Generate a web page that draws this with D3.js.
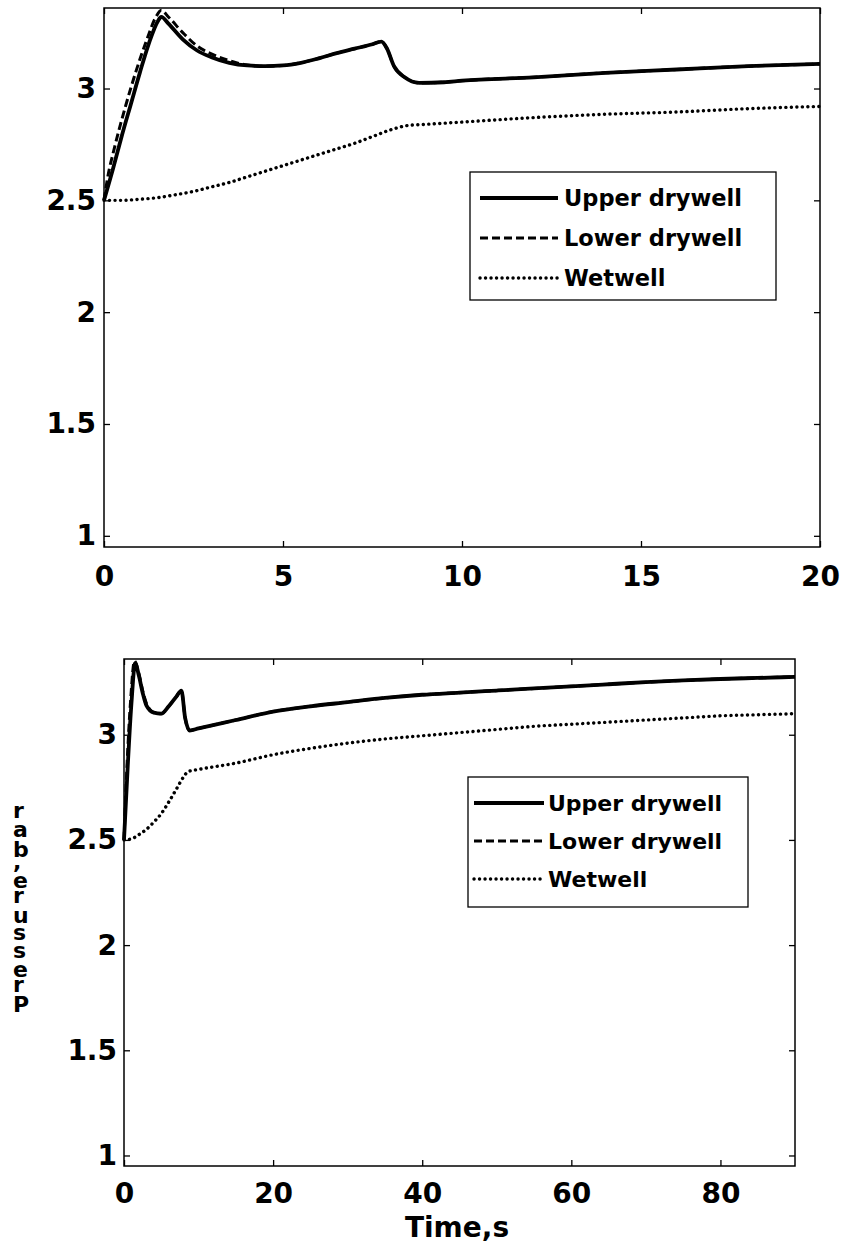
<!DOCTYPE html>
<html><head><meta charset="utf-8">
<script src="https://cdn.jsdelivr.net/npm/d3@7"></script>
<style>
html,body{margin:0;padding:0;background:#fff;}
svg text{font-family:"DejaVu Sans",sans-serif;font-weight:bold;fill:#000;}
</style></head>
<body>
<svg id="c" width="842" height="1247"></svg>
<script>
// ---- data ----
const seriesNames = ["Upper drywell", "Lower drywell", "Wetwell"];
const yTicks = [1, 1.5, 2, 2.5, 3];
const yTickLabels = ["1", "1.5", "2", "2.5", "3"];
const xTicksTop = [0, 5, 10, 15, 20];
const xTicksBottom = [0, 20, 40, 60, 80];
const xLabelBottom = "Time,s";
const yLabel = "Pressure,bar";

// top panel (0-20 s): [time, pressure]
const topUpper = [[0,2.5],[0.25,2.64],[0.5,2.79],[0.75,2.93],[1.0,3.07],[1.25,3.2],[1.5,3.3],[1.6,3.32],[1.8,3.29],[2.2,3.22],[2.6,3.17],[3.0,3.14],[3.5,3.115],[4.0,3.103],[4.5,3.10],[5.0,3.103],[5.5,3.115],[6.0,3.135],[6.5,3.158],[7.0,3.178],[7.5,3.198],[7.75,3.21],[7.9,3.18],[8.1,3.1],[8.4,3.05],[8.8,3.025],[9.5,3.028],[10,3.035],[12,3.05],[14,3.07],[16,3.085],[18,3.10],[20,3.11]];
const topLower = [[0,2.5],[0.1,2.6],[0.3,2.74],[0.6,2.92],[0.9,3.08],[1.2,3.22],[1.45,3.32],[1.6,3.35],[1.8,3.32],[2.2,3.25],[2.6,3.19],[3.0,3.155],[3.5,3.125],[4.0,3.105],[4.5,3.10],[5.0,3.103],[5.5,3.115],[6.0,3.135],[6.5,3.158],[7.0,3.178],[7.5,3.198],[7.75,3.21],[7.9,3.18],[8.1,3.1],[8.4,3.05],[8.8,3.025],[9.5,3.028],[10,3.035],[12,3.05],[14,3.07],[16,3.085],[18,3.10],[20,3.11]];
const topWet = [[0,2.5],[0.5,2.5],[1,2.505],[1.5,2.512],[2,2.525],[2.5,2.54],[3,2.56],[3.5,2.58],[4,2.605],[4.5,2.63],[5,2.655],[5.5,2.68],[6,2.705],[6.5,2.73],[7,2.755],[7.5,2.785],[8,2.815],[8.5,2.835],[9,2.84],[10,2.85],[12,2.87],[14,2.885],[16,2.895],[18,2.91],[20,2.92]];

// bottom panel (0-90 s)
const botUpper = [[0,2.5],[0.5,2.85],[1,3.15],[1.5,3.34],[2,3.28],[2.5,3.2],[3,3.14],[4,3.105],[5,3.10],[6,3.135],[7,3.18],[7.7,3.21],[8.2,3.08],[8.8,3.02],[10,3.03],[15,3.07],[20,3.11],[25,3.135],[30,3.155],[35,3.175],[40,3.19],[45,3.2],[50,3.21],[55,3.22],[60,3.23],[65,3.24],[70,3.25],[75,3.258],[80,3.265],[85,3.27],[90,3.275]];
const botLower = [[0,2.5],[0.4,2.85],[0.9,3.17],[1.4,3.35],[2,3.29],[2.5,3.21],[3,3.15],[4,3.105],[5,3.10],[6,3.135],[7,3.18],[7.7,3.21],[8.2,3.08],[8.8,3.02],[10,3.03],[15,3.07],[20,3.11],[25,3.135],[30,3.155],[35,3.175],[40,3.19],[45,3.2],[50,3.21],[55,3.22],[60,3.23],[65,3.24],[70,3.25],[75,3.258],[80,3.265],[85,3.27],[90,3.275]];
const botWet = [[0,2.5],[1,2.505],[2,2.525],[3,2.55],[4,2.585],[5,2.625],[6,2.68],[7,2.74],[8,2.8],[8.6,2.825],[10,2.835],[15,2.865],[20,2.905],[25,2.935],[30,2.96],[35,2.98],[40,2.995],[45,3.01],[50,3.025],[55,3.04],[60,3.05],[65,3.06],[70,3.07],[75,3.08],[80,3.09],[85,3.095],[90,3.1]];

const svg = d3.select("#c");
const styles = [
  {w:3.8, dash:null, cap:"butt"},
  {w:3.0, dash:"8,4", cap:"butt"},
  {w:3.4, dash:"0.1,5.4", cap:"round"}
];

function panel(cfg){
  const x = d3.scaleLinear().domain(cfg.xDomain).range([cfg.left, cfg.right]);
  const y = d3.scaleLinear().domain([0.95, 3.36]).range([cfg.bottom, cfg.top]);
  const g = svg.append("g");
  const fs = 28;
  const ax = (gen, tr) => {
    const a = g.append("g").attr("transform", tr).call(gen);
    a.select(".domain").remove();
    a.selectAll(".tick line").attr("stroke","#000").attr("stroke-width",1.3);
    a.selectAll("text").attr("font-size", fs).attr("font-family","DejaVu Sans").attr("font-weight","bold");
    return a;
  };
  ax(d3.axisLeft(y).tickValues(yTicks).tickFormat((d,i)=>yTickLabels[i]).tickSize(-6).tickPadding(cfg.ypad), `translate(${cfg.left},0)`);
  ax(d3.axisRight(y).tickValues(yTicks).tickFormat("").tickSize(-6), `translate(${cfg.right},0)`);
  ax(d3.axisBottom(x).tickValues(cfg.xTicks).tickFormat(d3.format("d")).tickSize(-6).tickPadding(cfg.xpad), `translate(0,${cfg.bottom})`);
  ax(d3.axisTop(x).tickValues(cfg.xTicks).tickFormat("").tickSize(-6), `translate(0,${cfg.top})`);
  g.append("rect").attr("x",cfg.left).attr("y",cfg.top).attr("width",cfg.right-cfg.left).attr("height",cfg.bottom-cfg.top)
    .attr("fill","none").attr("stroke","#000").attr("stroke-width",1.5);
  const line = d3.line().x(d=>x(d[0])).y(d=>y(d[1])).curve(d3.curveMonotoneX);
  const data = cfg.series;
  [2,1,0].forEach(i=>{
    const p = g.append("path").datum(data[i]).attr("d", line).attr("fill","none").attr("stroke","#000")
      .attr("stroke-width", styles[i].w).attr("stroke-linecap", styles[i].cap).attr("stroke-linejoin","round");
    if(styles[i].dash) p.attr("stroke-dasharray", styles[i].dash);
  });
  const L = cfg.legend;
  g.append("rect").attr("x",L.x).attr("y",L.y).attr("width",L.w).attr("height",L.h).attr("fill","#fff").attr("stroke","#000").attr("stroke-width",1.3);
  seriesNames.forEach((n,i)=>{
    const yy = L.y + L.row0 + i*L.dy;
    const p = g.append("line").attr("x1",L.x+L.lx0).attr("x2",L.x+L.lx1).attr("y1",yy).attr("y2",yy)
      .attr("stroke","#000").attr("stroke-width",styles[i].w).attr("stroke-linecap",styles[i].cap);
    if(styles[i].dash) p.attr("stroke-dasharray", styles[i].dash);
    g.append("text").attr("x",L.x+L.tx).attr("y",yy).attr("dy","0.36em").attr("font-size",L.fs).text(n);
  });
  return {x,y,g};
}

panel({xDomain:[0,20], left:104, right:820, top:8, bottom:547, xTicks:xTicksTop, ypad:8, xpad:19,
  series:[topUpper, topLower, topWet],
  legend:{x:470,y:172,w:306,h:128,row0:26,dy:40,lx0:10,lx1:88,tx:94,fs:22.5}});

panel({xDomain:[0,90], left:124, right:795, top:659, bottom:1166, xTicks:xTicksBottom, ypad:7, xpad:17,
  series:[botUpper, botLower, botWet],
  legend:{x:468,y:777,w:280,h:130,row0:26,dy:38,lx0:6,lx1:76,tx:80,fs:22}});

svg.append("text").attr("x",457).attr("y",1237).attr("text-anchor","middle").attr("font-size",28).text(xLabelBottom);

// y label: reads bottom to top with upright glyphs (single text element)
svg.append("text")
  .attr("transform","translate(13,1012) rotate(-90)")
  .attr("font-size",22)
  .attr("rotate","90")
  .attr("textLength",205)
  .attr("lengthAdjust","spacing")
  .text(yLabel);
</script>
</body></html>
